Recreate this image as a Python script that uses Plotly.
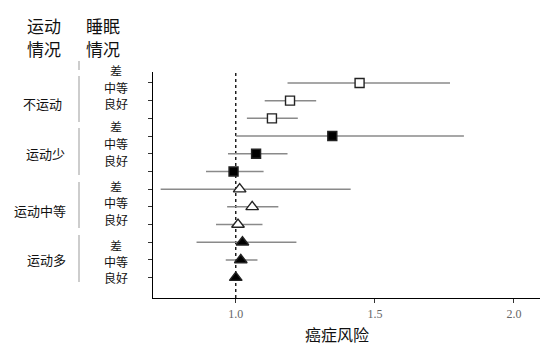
import plotly.graph_objects as go

# ---- data ----
exercise_groups = ["不运动", "运动少", "运动中等", "运动多"]
sleep_levels = ["差", "中等", "良好"]
hr = [1.445, 1.195, 1.130, 1.347, 1.073, 0.992, 1.014, 1.059, 1.008, 1.024, 1.018, 1.000]
ci_low = [1.186, 1.104, 1.040, 1.000, 0.972, 0.893, 0.730, 0.969, 0.929, 0.859, 0.964, 1.000]
ci_high = [1.770, 1.289, 1.223, 1.820, 1.186, 1.100, 1.413, 1.153, 1.096, 1.218, 1.078, 1.000]
x_ticks = [1.0, 1.5, 2.0]
x_tick_labels = ["1.0", "1.5", "2.0"]
x_title = "癌症风险"
header_exercise = ["运动", "情况"]
header_sleep = ["睡眠", "情况"]

# ---- styles ----
symbols = ["square", "square", "triangle-up", "triangle-up"]
fills = ["white", "black", "white", "black"]
sizes = [9, 9, 11, 11]

CJK = "Noto Sans CJK SC"
L, R, T, B = 153, 14, 72, 61
W, H = 554, 359
PW, PH = W - L - R, H - T - B


def px_x(px):
    return (px - L) / PW


def px_y(py):
    return (H - B - py) / PH


fig = go.Figure()
n_sleep = len(sleep_levels)
n_rows = len(hr)
for g, grp in enumerate(exercise_groups):
    idx = list(range(g * n_sleep, (g + 1) * n_sleep))
    ys = [n_rows - i for i in idx]
    xs = [hr[i] for i in idx]
    fig.add_trace(go.Scatter(
        x=xs, y=ys, mode="markers", name=grp, showlegend=False,
        marker=dict(symbol=symbols[g], size=sizes[g], color=fills[g],
                    line=dict(color="#222", width=1.4)),
        error_x=dict(type="data", symmetric=False,
                     array=[ci_high[i] - hr[i] for i in idx],
                     arrayminus=[hr[i] - ci_low[i] for i in idx],
                     color="#8a8a8a", thickness=1.5, width=0),
    ))

fig.add_shape(type="line", xref="x", yref="paper", x0=1.0, x1=1.0, y0=0, y1=1,
              line=dict(color="black", width=1.3, dash="dot"), layer="below")

# left gray separators
for y0, y1 in [(61, 70), (76, 122), (128, 175), (182, 228), (235, 282)]:
    fig.add_shape(type="line", xref="paper", yref="paper",
                  x0=px_x(79), x1=px_x(79), y0=px_y(y0), y1=px_y(y1),
                  line=dict(color="#bdbdbd", width=1.5))

ann = []
for k, (t1, t2) in enumerate([header_exercise, header_sleep]):
    cx = [44, 103][k]
    for t, py in zip([t1, t2], [25, 48]):
        ann.append(dict(text=t, x=px_x(cx), y=px_y(py), xref="paper", yref="paper",
                        showarrow=False, xanchor="center", yanchor="middle",
                        font=dict(family=CJK, size=17, color="#111")))

grp_pos = [(64, 103), (67, 153), (68, 210), (68, 259)]
for grp, (rx, py) in zip(exercise_groups, grp_pos):
    ann.append(dict(text=grp, x=px_x(rx), y=px_y(py), xref="paper", yref="paper",
                    showarrow=False, xanchor="right", yanchor="middle",
                    font=dict(family=CJK, size=13, color="#111")))

sleep_y = [[70, 87, 103], [126, 143, 160], [186, 202, 219], [245, 261, 277]]
for g in range(len(exercise_groups)):
    for s, lvl in enumerate(sleep_levels):
        ann.append(dict(text=lvl, x=px_x(116), y=px_y(sleep_y[g][s]), xref="paper", yref="paper",
                        showarrow=False, xanchor="center", yanchor="middle",
                        font=dict(family=CJK, size=12, color="#111")))

ann.append(dict(text=x_title, x=px_x(337), y=px_y(334), xref="paper", yref="paper",
                showarrow=False, xanchor="center", yanchor="middle",
                font=dict(family=CJK, size=16, color="#111")))

fig.update_layout(
    width=W, height=H, margin=dict(l=L, r=R, t=T, b=B),
    plot_bgcolor="white", paper_bgcolor="white",
    annotations=ann,
    xaxis=dict(range=[0.7025, 2.0935], tickvals=x_ticks, ticktext=x_tick_labels,
               showgrid=False, zeroline=False, showline=True, linecolor="black", linewidth=1.2,
               ticks="outside", ticklen=4, tickcolor="#333", tickwidth=1,
               tickfont=dict(family="Liberation Serif", size=12, color="#666")),
    yaxis=dict(range=[-0.15, 12.62], tickvals=list(range(1, n_rows + 1)),
               showticklabels=False, showgrid=False, zeroline=False, showline=True,
               linecolor="black", linewidth=1.2, ticks="outside", ticklen=4,
               tickcolor="#333", tickwidth=1),
)

fig.write_html("out.html", config={"displayModeBar": False},
               post_script="document.body.style.margin='0';document.body.style.padding='0';")
